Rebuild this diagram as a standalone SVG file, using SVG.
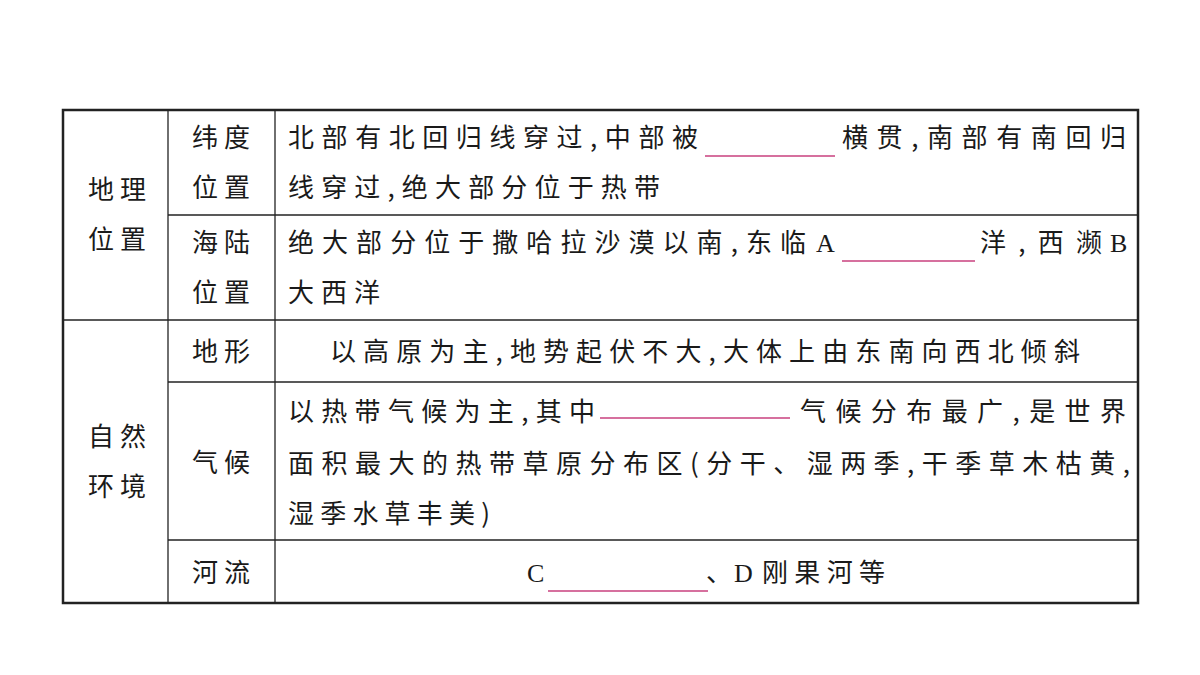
<svg xmlns="http://www.w3.org/2000/svg" width="1200" height="675" viewBox="0 0 1200 675">
<style>
text{font-family:"Noto Sans CJK SC","Noto Sans",sans-serif;font-size:26px;fill:#1a1a1a}
.l{font-family:"Liberation Serif",serif}
.g line{stroke:#222;stroke-width:1.3}
.b{stroke:#c8407e;stroke-width:1.5}
</style>
<rect width="1200" height="675" fill="#fff"/>
<g id="grid" class="g">
<rect x="63" y="110" width="1075" height="493" fill="none" stroke="#222" stroke-width="2.5"/>
<line x1="168" y1="110" x2="168" y2="603"/>
<line x1="275" y1="110" x2="275" y2="603"/>
<line x1="168" y1="215" x2="1138" y2="215"/>
<line x1="63" y1="320" x2="1138" y2="320"/>
<line x1="168" y1="382" x2="1138" y2="382"/>
<line x1="168" y1="540" x2="1138" y2="540"/>
</g>
<g id="blanks">
<line class="b" x1="705" y1="156" x2="835" y2="156"/>
<line class="b" x1="842" y1="261" x2="975" y2="261"/>
<line class="b" x1="600" y1="418" x2="790" y2="418"/>
<line class="b" x1="548" y1="591" x2="708" y2="591"/>
</g>
<g id="labels">
<text x="88" y="199" textLength="58" lengthAdjust="spacing">地理</text>
<text x="88" y="249" textLength="58" lengthAdjust="spacing">位置</text>
<text x="88" y="446" textLength="58" lengthAdjust="spacing">自然</text>
<text x="88" y="496" textLength="58" lengthAdjust="spacing">环境</text>
<text x="192" y="147" textLength="58" lengthAdjust="spacing">纬度</text>
<text x="192" y="197" textLength="58" lengthAdjust="spacing">位置</text>
<text x="192" y="252" textLength="58" lengthAdjust="spacing">海陆</text>
<text x="192" y="302" textLength="58" lengthAdjust="spacing">位置</text>
<text x="192" y="361" textLength="58" lengthAdjust="spacing">地形</text>
<text x="192" y="472" textLength="58" lengthAdjust="spacing">气候</text>
<text x="192" y="582" textLength="58" lengthAdjust="spacing">河流</text>
</g>
<g id="content">
<text x="288" y="147" textLength="410" lengthAdjust="spacing">北部有北回归线穿过,中部被</text>
<text x="842" y="147" textLength="284" lengthAdjust="spacing">横贯,南部有南回归</text>
<text x="288" y="197" textLength="372" lengthAdjust="spacing">线穿过,绝大部分位于热带</text>
<text x="288" y="252" textLength="518" lengthAdjust="spacing">绝大部分位于撒哈拉沙漠以南,东临</text>
<text x="816" y="252" class="l">A</text>
<text x="980" y="252" textLength="122" lengthAdjust="spacing">洋,西濒</text>
<text x="1110" y="252" class="l">B</text>
<text x="288" y="302" textLength="92" lengthAdjust="spacing">大西洋</text>
<text x="330" y="361" textLength="750" lengthAdjust="spacing">以高原为主,地势起伏不大,大体上由东南向西北倾斜</text>
<text x="288" y="421" textLength="307" lengthAdjust="spacing">以热带气候为主,其中</text>
<text x="800" y="421" textLength="326" lengthAdjust="spacing">气候分布最广,是世界</text>
<text x="288" y="473" textLength="842" lengthAdjust="spacing">面积最大的热带草原分布区(分干、湿两季,干季草木枯黄,</text>
<text x="288" y="523" textLength="202" lengthAdjust="spacing">湿季水草丰美)</text>
<text x="527" y="582" class="l">C</text>
<text x="706" y="582">、</text>
<text x="734" y="582" class="l">D</text>
<text x="762" y="582" textLength="123" lengthAdjust="spacing">刚果河等</text>
</g>
</svg>
